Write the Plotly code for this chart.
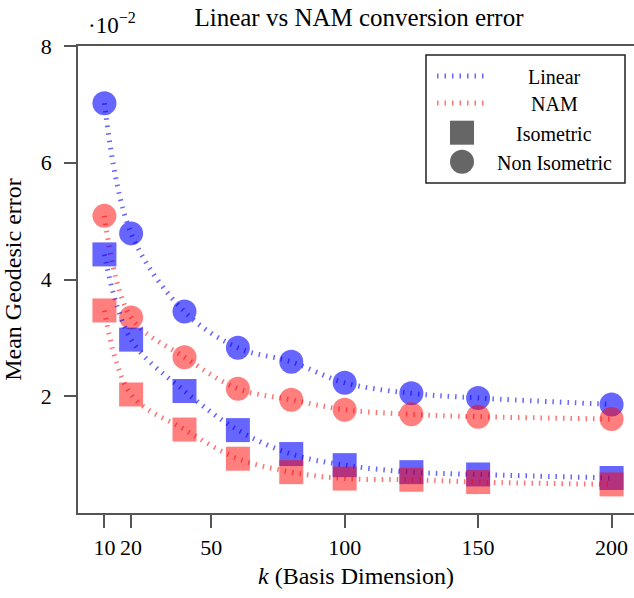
import plotly.graph_objects as go

# ---------------- data ----------------
k = [10, 20, 40, 60, 80, 100, 125, 150, 200]
linear_non_iso = [7.02, 4.79, 3.45, 2.83, 2.59, 2.23, 2.05, 1.97, 1.86]
nam_non_iso = [5.09, 3.35, 2.67, 2.13, 1.94, 1.77, 1.69, 1.65, 1.61]
linear_iso = [4.43, 2.97, 2.09, 1.42, 1.01, 0.82, 0.70, 0.66, 0.60]
nam_iso = [3.47, 2.03, 1.43, 0.93, 0.70, 0.59, 0.57, 0.53, 0.49]
x_ticks = [10, 20, 50, 100, 150, 200]
y_ticks = [2, 4, 6, 8]
legend_labels = ["Linear", "NAM", "Isometric", "Non Isometric"]

# ---------------- style ----------------
W, H = 634, 598
ML, MR, MT, MB = 78, 0, 46, 85
FONT = "Liberation Serif"
BLUE_M = "rgba(0,0,255,0.6)"
RED_M = "rgba(255,0,0,0.5)"
BLUE_L = "rgba(0,0,255,0.6)"
RED_L = "rgba(255,0,0,0.55)"
DASH = "1.5px,6px"
AX = "#555555"

fig = go.Figure()


def add_series(y, line_color, marker_color, symbol):
    fig.add_trace(go.Scatter(
        x=k, y=y, mode="lines+markers",
        line=dict(color=line_color, width=5, dash=DASH, shape="spline", smoothing=1.0),
        marker=dict(color=marker_color, size=24, symbol=symbol, line=dict(width=0)),
        showlegend=False, hoverinfo="x+y",
    ))


add_series(linear_non_iso, BLUE_L, BLUE_M, "circle")
add_series(nam_non_iso, RED_L, RED_M, "circle")
add_series(linear_iso, BLUE_L, BLUE_M, "square")
add_series(nam_iso, RED_L, RED_M, "square")

PW = W - ML - MR
PH = H - MT - MB


def px(x):
    return (x - ML) / PW


def py(y):
    return (H - MB - y) / PH


shapes = []
annotations = []
# legend box
shapes.append(dict(type="rect", xref="paper", yref="paper",
                   x0=px(426), x1=px(625), y0=py(183), y1=py(55),
                   line=dict(color="#222222", width=1.5), fillcolor="white", layer="above"))
rows_y = [76, 103, 132.7, 161.7]
# line samples
for yy, col in zip(rows_y[:2], [BLUE_L, RED_L]):
    shapes.append(dict(type="line", xref="paper", yref="paper",
                       x0=px(437), x1=px(485), y0=py(yy), y1=py(yy),
                       line=dict(color=col, width=5, dash=DASH), layer="above"))
# marker samples
shapes.append(dict(type="rect", xref="paper", yref="paper",
                   xsizemode="pixel", ysizemode="pixel",
                   xanchor=px(462), yanchor=py(rows_y[2]),
                   x0=-12, x1=12, y0=-12, y1=12,
                   fillcolor="#666666", line=dict(width=0), layer="above"))
shapes.append(dict(type="circle", xref="paper", yref="paper",
                   xsizemode="pixel", ysizemode="pixel",
                   xanchor=px(462), yanchor=py(rows_y[3]),
                   x0=-12, x1=12, y0=-12, y1=12,
                   fillcolor="#666666", line=dict(width=0), layer="above"))
for yy, lab in zip(rows_y, legend_labels):
    annotations.append(dict(xref="paper", yref="paper", x=px(554), y=py(yy + 1),
                            text=lab, showarrow=False, xanchor="center", yanchor="middle",
                            font=dict(family=FONT, size=20, color="black")))

# exponent label
annotations.append(dict(xref="paper", yref="paper", x=px(86), y=py(23),
                        text="·10<sup>−2</sup>", showarrow=False,
                        xanchor="left", yanchor="middle",
                        font=dict(family=FONT, size=23, color="black")))

fig.update_layout(
    width=W, height=H,
    margin=dict(l=ML, r=MR, t=MT, b=MB, pad=0),
    paper_bgcolor="white", plot_bgcolor="white",
    font=dict(family=FONT, size=22, color="black"),
    title=dict(text="Linear vs NAM conversion error", x=(359) / W, xanchor="center",
               y=1 - 17 / H, yanchor="middle",
               font=dict(family=FONT, size=25, color="black")),
    shapes=shapes, annotations=annotations,
    showlegend=False,
)
fig.update_xaxes(
    range=[0.1, 208.4], tickvals=x_ticks, ticktext=[str(v) for v in x_ticks],
    showgrid=False, zeroline=False,
    showline=True, linecolor=AX, linewidth=1.5, mirror=True,
    ticks="outside", ticklen=13, tickwidth=1.5, tickcolor=AX,
    ticklabelstandoff=1,
    tickfont=dict(family=FONT, size=22, color="black"),
    title=dict(text="<i>k</i> (Basis Dimension)", standoff=8,
               font=dict(family=FONT, size=24, color="black")),
)
fig.update_yaxes(
    range=[0, 8], tickvals=y_ticks, ticktext=[str(v) for v in y_ticks],
    showgrid=False, zeroline=False,
    showline=True, linecolor=AX, linewidth=1.5, mirror=False,
    ticks="outside", ticklen=12, tickwidth=1.5, tickcolor=AX,
    ticklabelstandoff=8,
    tickfont=dict(family=FONT, size=22, color="black"),
    title=dict(text="Mean Geodesic error", standoff=12,
               font=dict(family=FONT, size=24, color="black")),
)

fig.write_html("out.html")
